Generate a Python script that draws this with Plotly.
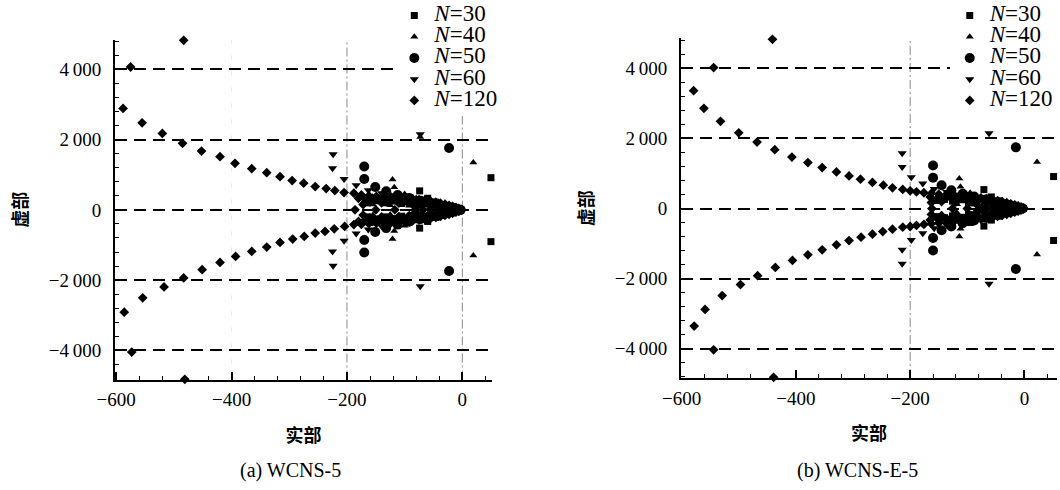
import plotly.graph_objects as go

# ---------------- (a) WCNS-5 : eigenvalues (real part, imaginary part) ----------------
a30_re = [49.6, 49.6, -74, -74, -60, -60, -46, -46, -33, -33, -21, -21, -10, -10, -3,
          -165, -165, -150, -150, -135, -135, -120, -120, -105, -105, -90, -90, -78, -78]
a30_im = [915, -905, 540, -520, 330, -330, 220, -220, 140, -140, 80, -80, 35, -35, 0,
          200, -200, 260, -260, 200, -200, 250, -250, 180, -180, 220, -220, 150, -150]

a40_re = [19, 19, -121, -121, -73, -118, -118, -160, -160, -100, -100, -80, -80,
          -60, -60, -40, -40, -20, -20, -6, -6,
          -170, -170, -155, -155, -140, -140, -125, -125, -108, -108, -92, -92, -82, -82]
a40_im = [1345, -1300, 860, -830, 2070, 640, -600, 400, -400, 450, -450, 330, -330,
          230, -230, 140, -140, 70, -70, 20, -20,
          250, -250, 150, -150, 290, -290, 130, -130, 300, -300, 120, -120, 200, -200]

a50_re = [-23, -23, -170, -170, -170, -170, -151, -151, -132, -132, -112, -112,
          -92, -92, -72, -72, -52, -52, -33, -33, -15, -15, -3]
a50_im = [1760, -1740, 1235, -1215, 880, -860, 650, -630, 530, -520, 420, -420,
          340, -340, 260, -260, 180, -180, 110, -110, 50, -50, 0]

a60_re = [-73, -73, -224, -224, -225, -225, -205, -205, -184, -184, -163, -163,
          -140, -140, -118, -118, -96, -96, -75, -75, -55, -55, -36, -36, -18, -18, -5, -5,
          -158, -158, -128, -128]
a60_im = [2150, -2175, 1580, -1590, 1185, -1185, 880, -880, 700, -670, 560, -560,
          470, -470, 400, -400, 330, -330, 260, -260, 190, -190, 120, -120, 60, -60, 15, -15,
          300, -300, 320, -320]

a120_re = [
    # upper branch
    -483, -575, -588, -555, -520, -485, -452, -420, -394, -365, -339, -316, -295,
    -275, -255, -236, -221, -205, -188, -175, -162, -149, -136, -123, -110, -98,
    -86, -75, -65, -55, -46, -38, -30, -23, -17, -11, -6, -2,
    # lower branch
    -481, -573, -586, -554, -517, -483, -451, -420, -393, -365, -339, -316, -294,
    -274, -255, -238, -222, -204, -188, -175, -162, -149, -136, -123, -110, -98,
    -86, -75, -65, -55, -46, -38, -30, -23, -17, -11, -6, -2,
    # on the real axis
    -186, -150, -117, -80, -68, -56, -44, -32, -20, -9,
    # inner cluster
    -172, -172, -160, -160, -140, -140, -128, -128, -110, -110, -95, -95,
    -85, -85, -70, -70, -55, -55, -40, -40, -25, -25,
    -180, -168, -156, -146, -134, -122, -112, -102, -90, -80, -70, -62, -52,
    -44, -36, -28, -20, -13, -7,
    -180, -168, -156, -146, -134, -122, -112, -102, -90, -80, -70, -62, -52,
    -44, -36, -28, -20, -13, -7,
]
a120_im = [
    4823, 4065, 2885, 2477, 2176, 1892, 1674, 1513, 1324, 1172, 1058, 945, 832,
    757, 662, 605, 548, 491, 473, 425, 400, 385, 372, 360, 345, 330,
    312, 292, 270, 245, 218, 190, 160, 130, 100, 70, 42, 15,
    -4823, -4048, -2913, -2505, -2193, -1938, -1702, -1495, -1325, -1183, -1058, -927, -831,
    -757, -662, -615, -539, -473, -420, -410, -395, -382, -370, -358, -343, -328,
    -310, -290, -268, -243, -216, -188, -158, -128, -98, -68, -40, -14,
    0, 0, 0, 0, 0, 0, 0, 0, 0, 0,
    150, -150, 230, -230, 200, -200, 240, -240, 190, -190, 210, -210,
    130, -130, 120, -120, 100, -100, 70, -70, 40, -40,
    330, 300, 330, 290, 310, 290, 280, 290, 260, 240, 220, 200, 170,
    150, 120, 95, 70, 45, 25,
    -330, -300, -330, -290, -310, -290, -280, -290, -260, -240, -220, -200, -170,
    -150, -120, -95, -70, -45, -25,
]

# ---------------- (b) WCNS-E-5 ----------------
b30_re = [51, 51, -71, -71, -58, -58, -44, -44, -31, -31, -19, -19, -9, -9, -2,
          -155, -155, -140, -140, -126, -126, -112, -112, -98, -98, -84, -84]
b30_im = [912, -912, 540, -500, 330, -330, 220, -220, 140, -140, 80, -80, 35, -35, 0,
          230, -230, 260, -260, 210, -210, 250, -250, 170, -170, 220, -220]

b40_re = [22, 22, -114, -114, -112, -112, -150, -150, -95, -95, -77, -77,
          -58, -58, -38, -38, -19, -19, -5, -5,
          -160, -160, -132, -132, -118, -118, -104, -104, -88, -88]
b40_im = [1330, -1315, 860, -800, 620, -580, 400, -400, 450, -450, 330, -330,
          230, -230, 140, -140, 70, -70, 20, -20,
          250, -250, 280, -280, 120, -120, 300, -300, 110, -110]

b50_re = [-15, -15, -160, -160, -160, -160, -145, -145, -128, -128, -108, -108,
          -88, -88, -68, -68, -49, -49, -31, -31, -14, -14, -3]
b50_im = [1745, -1725, 1230, -1200, 880, -840, 665, -620, 520, -510, 420, -420,
          340, -340, 260, -260, 180, -180, 110, -110, 50, -50, 0]

b60_re = [-62, -62, -214, -214, -214, -214, -198, -198, -178, -178, -158, -158,
          -136, -136, -114, -114, -93, -93, -73, -73, -53, -53, -35, -35, -17, -17, -5, -5,
          -148, -148, -124, -124]
b60_im = [2150, -2150, 1580, -1575, 1185, -1180, 895, -895, 712, -705, 560, -560,
          470, -470, 400, -400, 330, -330, 260, -260, 190, -190, 120, -120, 60, -60, 15, -15,
          310, -310, 330, -330]

b120_re = [
    -441, -544, -579, -561, -532, -500, -468, -437, -407, -379, -354, -329, -307,
    -287, -266, -247, -231, -213, -200, -189, -176, -163, -150, -137, -124, -111,
    -99, -87, -76, -66, -56, -47, -39, -31, -24, -17, -11, -6, -2,
    -439, -544, -578, -559, -529, -497, -467, -436, -406, -379, -354, -329, -307,
    -286, -266, -248, -231, -213, -200, -189, -176, -163, -150, -137, -124, -111,
    -99, -87, -76, -66, -56, -47, -39, -31, -24, -17, -11, -6, -2,
    -162, -126, -100, -78, -66, -54, -42, -30, -19, -9,
    -165, -165, -163, -163, -145, -145, -120, -120, -100, -100,
    -85, -85, -70, -70, -55, -55, -40, -40, -25, -25,
    -150, -138, -126, -114, -102, -90, -80, -70, -61, -52, -44, -36, -28, -20, -13, -7,
    -150, -138, -126, -114, -102, -90, -80, -70, -61, -52, -44, -36, -28, -20, -13, -7,
]
b120_im = [
    4827, 4022, 3361, 2859, 2490, 2161, 1895, 1679, 1469, 1310, 1168, 1044, 930,
    836, 743, 666, 590, 544, 505, 477, 450, 430, 410, 395, 380, 362,
    345, 325, 303, 280, 254, 226, 197, 167, 136, 105, 74, 45, 18,
    -4818, -4033, -3353, -2880, -2483, -2171, -1915, -1680, -1481, -1320, -1178, -1036, -914,
    -818, -733, -658, -591, -534, -513, -483, -455, -432, -412, -396, -380, -362,
    -345, -325, -303, -280, -254, -226, -197, -167, -136, -105, -74, -45, -18,
    0, 0, 0, 0, 0, 0, 0, 0, 0, 0,
    330, -330, 170, -170, 200, -200, 180, -180, 210, -210,
    140, -140, 110, -110, 90, -90, 60, -60, 35, -35,
    320, 300, 310, 290, 295, 265, 245, 225, 200, 175, 150, 125, 98, 72, 47, 26,
    -320, -300, -310, -290, -295, -265, -245, -225, -200, -175, -150, -125, -98, -72, -47, -26,
]

series_names = ["30", "40", "50", "60", "120"]
series_symbols = ["square", "triangle-up", "circle", "triangle-down", "diamond"]
series_sizes = [7, 7, 10, 8, 7.5]

panel_a = [(a30_re, a30_im), (a40_re, a40_im), (a50_re, a50_im), (a60_re, a60_im), (a120_re, a120_im)]
panel_b = [(b30_re, b30_im), (b40_re, b40_im), (b50_re, b50_im), (b60_re, b60_im), (b120_re, b120_im)]

x_ticks = [-600, -400, -200, 0]
x_ticktext = ["\u2212600", "\u2212400", "\u2212200", "0"]
y_ticks = [-4000, -2000, 0, 2000, 4000]
y_ticktext = ["\u22124\u2009000", "\u22122\u2009000", "0", "2\u2009000", "4\u2009000"]

fig = go.Figure()

for panel, xa, ya, leg in [(panel_a, "x", "y", "legend"), (panel_b, "x2", "y2", "legend2")]:
    for (re_vals, im_vals), name, sym, size in zip(panel, series_names, series_symbols, series_sizes):
        fig.add_trace(go.Scatter(
            x=re_vals, y=im_vals, mode="markers", xaxis=xa, yaxis=ya, legend=leg,
            name='<span style="font-size:23px"><i>N</i>=' + name + '</span>',
            marker=dict(symbol=sym, size=size, color="black", line=dict(width=0)),
            cliponaxis=False, hoverinfo="skip",
        ))

tick_font = dict(family="Liberation Serif", size=19, color="black")
cjk_font = dict(family="Noto Sans CJK SC", size=18, color="black")


def x_axis(domain, rng, anchor):
    return dict(domain=domain, range=rng, anchor=anchor, tickvals=x_ticks, ticktext=x_ticktext,
                showline=True, linecolor="black", linewidth=2, ticks="inside",
                ticklen=8, tickwidth=1.5, tickcolor="black", showgrid=False,
                zeroline=False, tickfont=tick_font, ticklabelstandoff=2,
                minor=dict(ticks="inside", ticklen=4, tickwidth=1, tickcolor="black", dtick=40),
                title=dict(text="<b>实部</b>", font=cjk_font, standoff=20))


def y_axis(domain, rng, anchor):
    return dict(domain=domain, range=rng, anchor=anchor, tickvals=y_ticks,
                ticktext=y_ticktext, showline=True, linecolor="black", linewidth=2,
                ticks="inside", ticklen=8, tickwidth=1.5, tickcolor="black",
                showgrid=True, gridcolor="black", gridwidth=1.8, griddash="12px,7px",
                zeroline=False, tickfont=tick_font, ticklabelstandoff=8,
                minor=dict(ticks="inside", ticklen=4, tickwidth=1, tickcolor="black",
                           dtick=400, showgrid=False),
                title=dict(text="<b>虚部</b>", font=cjk_font, standoff=16))


legend_common = dict(yanchor="top", xanchor="left", y=1.0, bgcolor="white",
                     borderwidth=0, font=dict(family="Liberation Serif", size=14, color="black"),
                     tracegroupgap=0, itemclick=False, itemdoubleclick=False)

ref_line = dict(color="#8a8a8a", width=1, dash="9px,3px,2px,3px")
shapes = [
    dict(type="line", xref="x", yref="y domain", x0=-200, x1=-200, y0=0, y1=1, line=ref_line, layer="below"),
    dict(type="line", xref="x", yref="y domain", x0=0, x1=0, y0=0, y1=1, line=ref_line, layer="below"),
    dict(type="line", xref="x", yref="y domain", x0=-400, x1=-400, y0=0, y1=1,
         line=dict(color="#e4e4e4", width=1, dash="4px,12px"), layer="below"),
    dict(type="line", xref="x2", yref="y2 domain", x0=-200, x1=-200, y0=0, y1=1, line=ref_line, layer="below"),
]

caption_font = dict(family="Liberation Serif", size=20, color="black")

fig.update_layout(
    width=1060, height=490,
    margin=dict(l=0, r=0, t=0, b=0, autoexpand=False),
    paper_bgcolor="white", plot_bgcolor="white",
    xaxis=x_axis([0.1085, 0.4642], [-602, 51.5], "y"),
    yaxis=y_axis([1 - 379.5 / 490, 0.9184], [-4828, 4834], "x"),
    xaxis2=x_axis([0.6425, 0.9972], [-601, 57], "y2"),
    yaxis2=y_axis([0.2286, 0.9218], [-4836, 4857], "x2"),
    legend=dict(x=0.372, **legend_common),
    legend2=dict(x=0.896, **legend_common),
    shapes=shapes,
    annotations=[
        dict(text="(a) WCNS-5", x=290 / 1060, y=1 - 470 / 490, xref="paper", yref="paper",
             showarrow=False, font=caption_font, xanchor="center", yanchor="middle"),
        dict(text="(b) WCNS-E-5", x=857 / 1060, y=1 - 470 / 490, xref="paper", yref="paper",
             showarrow=False, font=caption_font, xanchor="center", yanchor="middle"),
    ],
    showlegend=True,
)

fig.write_html("out.html")
